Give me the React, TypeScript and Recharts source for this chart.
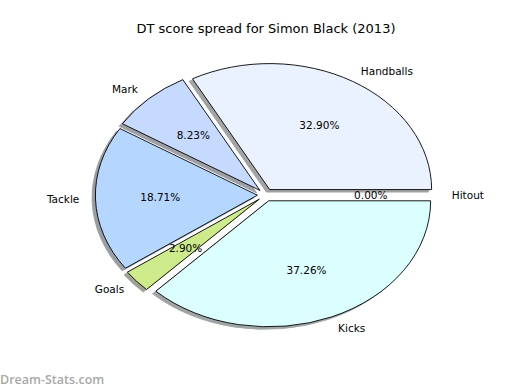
import { PieChart, Pie } from "recharts";

const categories = ["Hitout", "Handballs", "Mark", "Tackle", "Goals", "Kicks"];
const shares = [0.0, 32.9, 8.23, 18.71, 2.9, 37.26];
const colors = ["#ffffff", "#ebf2ff", "#c6d9ff", "#b5d6ff", "#cdeb8b", "#dbffff"];

const data = categories.map((name, i) => ({ name, value: shares[i], fill: colors[i] }));

// matplotlib-style elliptical pie: horizontal radius is wider than vertical
const KX = 162 / 126;
const EXPLODE = 0.05;
const RAD = Math.PI / 180;
const FONT = "'DejaVu Sans', sans-serif";

function wedgePath(cx: number, cy: number, r: number, a0: number, a1: number) {
  const s = Math.min(a0, a1);
  const e = Math.max(a0, a1);
  const rx = r * KX;
  const ry = r;
  const mid = ((s + e) / 2) * RAD;
  const ox = cx + EXPLODE * rx * Math.cos(mid);
  const oy = cy - EXPLODE * ry * Math.sin(mid);
  const x1 = ox + rx * Math.cos(s * RAD);
  const y1 = oy - ry * Math.sin(s * RAD);
  if (e - s < 1e-6) return `M${ox},${oy}L${x1},${y1}Z`;
  const x2 = ox + rx * Math.cos(e * RAD);
  const y2 = oy - ry * Math.sin(e * RAD);
  const large = e - s > 180 ? 1 : 0;
  return `M${ox},${oy}L${x1},${y1}A${rx},${ry} 0 ${large} 0 ${x2},${y2}Z`;
}

function darken(hex: string) {
  const n = parseInt(hex.slice(1), 16);
  const r = Math.round(((n >> 16) & 255) * 0.3);
  const g = Math.round(((n >> 8) & 255) * 0.3);
  const b = Math.round((n & 255) * 0.3);
  return `rgb(${r},${g},${b})`;
}

const Wedge = (props: any) => {
  const { cx, cy, outerRadius, startAngle, endAngle, fill } = props;
  return (
    <path
      d={wedgePath(cx, cy, outerRadius, startAngle, endAngle)}
      fill={fill}
      stroke="#000"
      strokeWidth={0.9}
      strokeLinejoin="round"
    />
  );
};

const ShadowWedge = (props: any) => {
  const { cx, cy, outerRadius, startAngle, endAngle, fill } = props;
  const c = darken(fill);
  return (
    <path
      d={wedgePath(cx - 3.3, cy + 2.5, outerRadius, startAngle, endAngle)}
      fill={c}
      stroke={c}
      strokeWidth={0.9}
      opacity={0.5}
    />
  );
};

const renderLabel = (props: any) => {
  const { cx, cy, outerRadius, startAngle, endAngle, value, name } = props;
  const mid = ((startAngle + endAngle) / 2) * RAD;
  const rx = outerRadius * KX;
  const ry = outerRadius;
  const ox = cx + EXPLODE * rx * Math.cos(mid);
  const oy = cy - EXPLODE * ry * Math.sin(mid);
  const lx = ox + 1.1 * rx * Math.cos(mid);
  const ly = oy - 1.1 * ry * Math.sin(mid);
  const px = ox + 0.6 * rx * Math.cos(mid);
  const py = oy - 0.6 * ry * Math.sin(mid);
  return (
    <g>
      <text
        x={lx}
        y={ly}
        textAnchor={Math.cos(mid) > 0 ? "start" : "end"}
        dominantBaseline="central"
        fontFamily={FONT}
        fontSize={10.5}
        fill="#000"
      >
        {name}
      </text>
      <text
        x={px}
        y={py}
        textAnchor="middle"
        dominantBaseline="central"
        fontFamily={FONT}
        fontSize={10.5}
        fill="#000"
      >
        {Number(value).toFixed(2)}%
      </text>
    </g>
  );
};

export default function App() {
  return (
    <div
      style={{
        position: "absolute",
        left: 0,
        top: 0,
        width: 520,
        height: 390,
        background: "#fff",
      }}
    >
      <div
        style={{
          position: "absolute",
          left: 0,
          top: 21,
          width: 532,
          textAlign: "center",
          fontFamily: FONT,
          fontSize: 13,
          color: "#000",
        }}
      >
        DT score spread for Simon Black (2013)
      </div>
      <PieChart width={520} height={390} margin={{ top: 0, right: 0, bottom: 0, left: 0 }}>
        <Pie
          data={data}
          dataKey="value"
          nameKey="name"
          cx={265.5}
          cy={195}
          outerRadius={126}
          startAngle={0}
          endAngle={360}
          shape={ShadowWedge}
          label={false}
          labelLine={false}
          isAnimationActive={false}
        />
        <Pie
          data={data}
          dataKey="value"
          nameKey="name"
          cx={265.5}
          cy={195}
          outerRadius={126}
          startAngle={0}
          endAngle={360}
          shape={Wedge}
          label={renderLabel}
          labelLine={false}
          isAnimationActive={false}
        />
      </PieChart>
      <div
        style={{
          position: "absolute",
          left: 0,
          top: 371,
          fontFamily: "'Open Sans', sans-serif",
          fontWeight: 600,
          fontSize: 12.5,
          color: "#a8a8a8",
        }}
      >
        Dream-Stats.com
      </div>
    </div>
  );
}
